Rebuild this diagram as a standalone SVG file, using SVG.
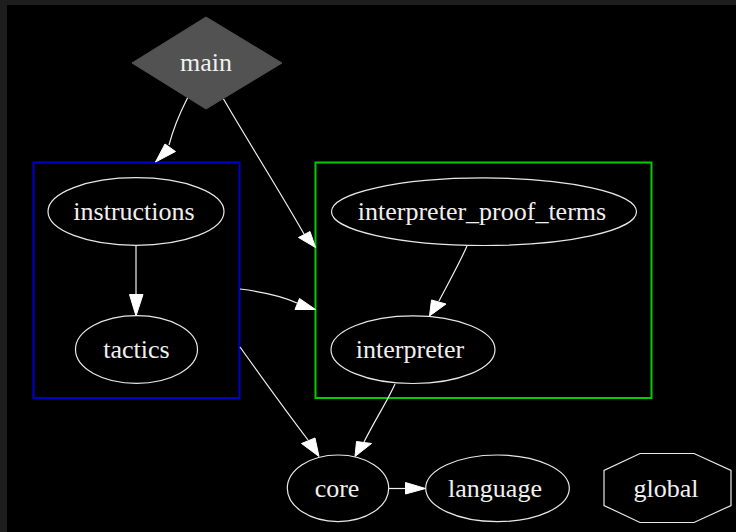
<svg xmlns="http://www.w3.org/2000/svg" width="736" height="532" viewBox="0 0 736 532">
<defs>
<style>
.node ellipse, .node polygon.o { fill: none; stroke: #e8e8e8; stroke-width: 1.2; }
.node text { font-size: 26px; fill: #f0f0f0; text-anchor: middle; }
.edge { fill: none; stroke: #f0f0f0; stroke-width: 1.2; }
.head { fill: #ffffff; stroke: #ffffff; stroke-width: 1; }
.cluster { fill: none; stroke-width: 2; }
</style>
</defs>
<rect x="0" y="0" width="736" height="532" fill="#1e1e1e"/>
<rect x="7" y="5" width="729" height="527" fill="#000000"/>

<g id="cluster_blue"><rect class="cluster" x="33.5" y="162.5" width="206" height="235.5" stroke="#0000cc"/></g>
<g id="cluster_green"><rect class="cluster" x="315.5" y="162.5" width="336" height="235.5" stroke="#00cc00"/></g>

<g id="connectors">
<path class="edge" d="M188,97 C182,109 175,122 169,145"/>
<polygon class="head" points="155.5,162 165,144 175.5,151.5"/>
<path class="edge" d="M223,98 C240,128 282,195 304,234"/>
<polygon class="head" points="315.5,247.5 298.5,237.5 310,231.5"/>
<path class="edge" d="M136,246 L136,295"/>
<polygon class="head" points="129.5,294.5 143,294.5 136,316"/>
<path class="edge" d="M240,289 C256,291 280,295 297,303"/>
<polygon class="head" points="315.5,309.5 299.5,298.5 295,309.5"/>
<path class="edge" d="M240,347 C260,375 285,410 308,440"/>
<polygon class="head" points="319,456.5 301.5,443.5 315,438"/>
<path class="edge" d="M467,246 C460,262 450,280 439,301"/>
<polygon class="head" points="429.5,316 431.5,300 446,304"/>
<path class="edge" d="M395,384 C388,400 375,420 364,442"/>
<polygon class="head" points="355,456.5 356.5,441.5 371.5,443.5"/>
<path class="edge" d="M389,488.5 L406,488.5"/>
<polygon class="head" points="405.5,482.5 425.5,488.5 405.5,494"/>
</g>

<g font-family="'Liberation Serif', 'DejaVu Serif', serif">
<g id="main" class="node">
<polygon points="206,17 282,63 206,109 132,63" fill="#525252" stroke="#525252"/>
<text x="206" y="71">main</text>
</g>
<g id="instructions" class="node">
<ellipse cx="136" cy="211.5" rx="88" ry="33.8"/>
<text x="134" y="220">instructions</text>
</g>
<g id="tactics" class="node">
<ellipse cx="136.5" cy="349.5" rx="61" ry="33.8"/>
<text x="136.5" y="357.5">tactics</text>
</g>
<g id="interpreter_proof_terms" class="node">
<ellipse cx="484" cy="211.7" rx="152.5" ry="33.8"/>
<text x="482" y="220">interpreter_proof_terms</text>
</g>
<g id="interpreter" class="node">
<ellipse cx="413" cy="349.7" rx="82" ry="33.8"/>
<text x="410" y="358">interpreter</text>
</g>
<g id="core" class="node">
<ellipse cx="338" cy="488.3" rx="50.7" ry="33.3"/>
<text x="337" y="496.5">core</text>
</g>
<g id="language" class="node">
<ellipse cx="497.5" cy="488.3" rx="71.8" ry="33.3"/>
<text x="495" y="496.5">language</text>
</g>
<g id="global" class="node">
<polygon class="o" points="640,453.5 694,453.5 731,470.5 731,505.5 694,522.5 640,522.5 604,505.5 604,470.5"/>
<text x="666" y="496.5">global</text>
</g>
</g>
</svg>
